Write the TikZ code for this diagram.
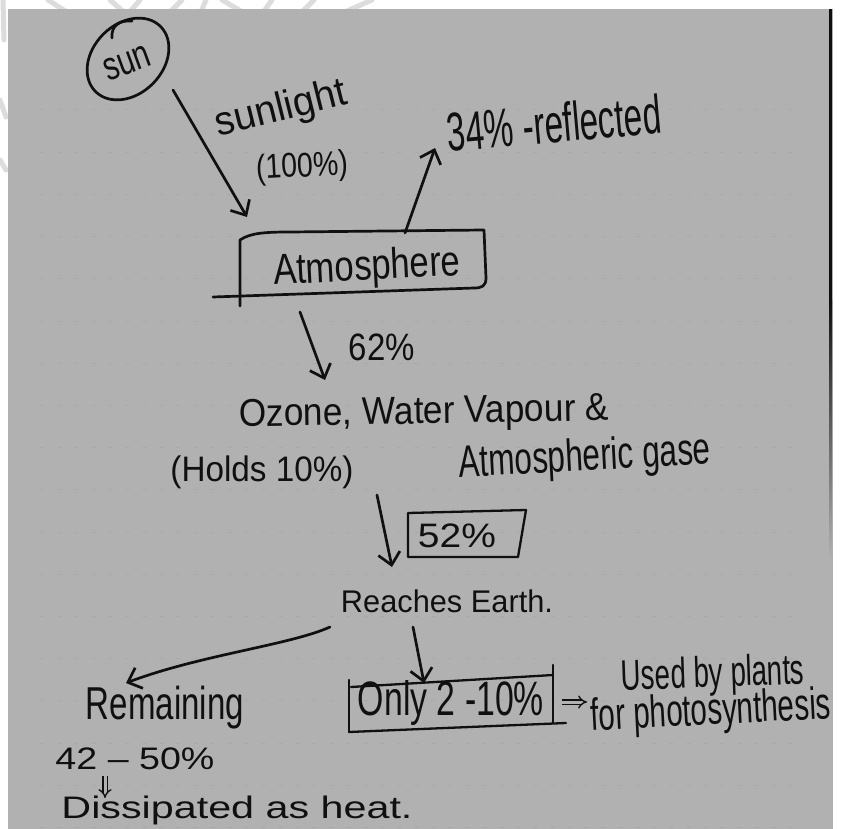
\documentclass[tikz,border=0pt]{standalone}
\usepackage{fontspec}
\usepackage{graphicx}
\usetikzlibrary{arrows.meta}
\newfontfamily\handfont{Liberation Sans}
\definecolor{paper}{HTML}{B1B1B1}
\definecolor{inkc}{HTML}{101010}
\definecolor{rulec}{HTML}{AAAAAA}
\definecolor{wmark}{HTML}{DCDCDC}
% text squeezed into a given width and total height (pt)
\newcommand\hw[3]{\resizebox*{#1pt}{#2pt}{\handfont #3}}
\begin{document}
\begin{tikzpicture}[x=1pt,y=-1pt,
  ink/.style={draw=inkc, line width=2.7pt, line cap=round, line join=round},
  arr/.style={ink, -{Straight Barb[length=12pt,width=22pt]}},
  dbl/.style={draw=inkc, line width=1.4pt, double=paper, double distance=3pt, -{Implies}},
  txt/.style={inner sep=0pt, text=inkc, anchor=center}]
\useasboundingbox (0,0) rectangle (841,829);
\fill[white] (0,0) rectangle (841,829);

% faint watermark strokes showing in the white margins
\begin{scope}[draw=wmark, line width=5pt, line cap=round]
  \draw (48,0) -- (70,14);
  \draw (110,0) -- (126,14);
  \draw (140,0) -- (128,14);
  \draw (168,14) -- (182,0);
  \draw (200,14) -- (206,0);
  \draw (222,0) -- (246,14);
  \draw (262,14) -- (272,0);
  \draw (300,14) -- (314,0);
  \draw (340,14) -- (372,0);
  \draw (3,0) -- (4,40);
  \draw (0,100) -- (6,117);
  \draw (0,160) -- (6,170);
\end{scope}

% the notebook page
\fill[paper] (8,9) rectangle (833,829);
\foreach \k in {0,...,17}
  \draw[rulec, line width=1pt, dash pattern=on 5pt off 12pt]
    (40,110+42.2*\k) -- (800,110+42.2*\k);
\fill[inkc] (829,9) rectangle (832,300);
\shade[top color=inkc, bottom color=paper] (829,300) rectangle (832,560);

% sun
\draw[ink] [rotate around={45:(128,59)}] (128,59) ellipse [x radius=46, y radius=35];
\draw[ink] (112,38) .. controls (111,26) and (119,20) .. (132,21);
\node[txt, rotate=20] (sun) at (127,63) {\hw{48}{22}{sun}};

% sunlight coming in
\coordinate (sunA) at (173,90);
\coordinate (sunB) at (247,217);
\draw[arr] (sunA) -- (sunB);
\node[txt, rotate=14] (light) at (281,110) {\hw{134}{38}{sunlight}};
\node[txt, rotate=3] (full) at (302,168) {\hw{92}{32}{(100\%)}};

% atmosphere
\draw[ink] (240,306) -- (240,240) .. controls (250,233) and (265,232) .. (290,232)
  -- (484,230) -- (486,278) .. controls (486,286) and (482,288) .. (474,288);
\draw[ink] (213,297) -- (474,288);
\node[txt, rotate=3] (atmo) at (367,269) {\hw{187}{40}{Atmosphere}};

% reflected part
\coordinate (refA) at (405,233);
\coordinate (refB) at (435,148);
\draw[arr] (refA) -- (refB);
\node[txt, rotate=5] (refl) at (554,123) {\hw{215}{40}{34\% -reflected}};

% down through the gases
\coordinate (gasA) at (300,312);
\coordinate (gasB) at (325,380);
\draw[arr] (gasA) -- (gasB);
\node[txt] (p62) at (382,347) {\hw{66}{27}{62\%}};
\node[txt, rotate=1] (ozone) at (424,414) {\hw{370}{35}{Ozone, Water Vapour \&}};
\node[txt, rotate=3] (gases) at (585,459) {\hw{252}{42}{Atmospheric gase}};
\node[txt] (holds) at (262,472) {\hw{183}{33}{(Holds 10\%)}};

% on to the earth
\coordinate (earthA) at (377,495);
\coordinate (earthB) at (392,567);
\draw[arr] (earthA) -- (earthB);
\draw[ink, line width=2.3pt] (408,513) -- (526,510) -- (518,557) -- (408,557) -- cycle;
\node[txt] (p52) at (457,536) {\hw{78}{24}{52\%}};
\node[txt] (earth) at (447,601) {\hw{212}{23}{Reaches Earth.}};

% split at the surface
\coordinate (remA) at (330,627);
\coordinate (remB) at (126,683);
\draw[arr] (remA) .. controls (290,645) and (200,655) .. (remB);
\coordinate (plA) at (413,627);
\coordinate (plB) at (424,683);
\draw[arr] (plA) -- (plB);

\draw[ink, line width=2.3pt] (349,680) -- (349,732);
\draw[ink, line width=2.3pt] (351,687) -- (553,675);
\draw[ink, line width=2.3pt] (553,665) -- (553,723);
\draw[ink, line width=2.3pt] (349,732) -- (566,723);
\node[txt] (only) at (451,703) {\hw{186}{45}{Only 2 -10\%}};
\node[txt, rotate=2] (used) at (713,676) {\hw{183}{40}{Used by plants}};
\node[txt, rotate=3] (photo) at (711,713) {\hw{240}{42}{for photosynthesis}};
\coordinate (impA) at (562,702);
\coordinate (impB) at (587,702);
\draw[dbl] (impA) -- (impB);

\node[txt] (rem) at (165,708) {\hw{158}{43}{Remaining}};
\node[txt] (range) at (135,759) {\hw{159}{22}{42 – 50\%}};
\node[txt] (heat) at (237,810) {\hw{351}{29}{Dissipated as heat.}};
\coordinate (dnA) at (105,776);
\coordinate (dnB) at (105,798);
\draw[dbl] (dnA) -- (dnB);
\end{tikzpicture}
\end{document}
